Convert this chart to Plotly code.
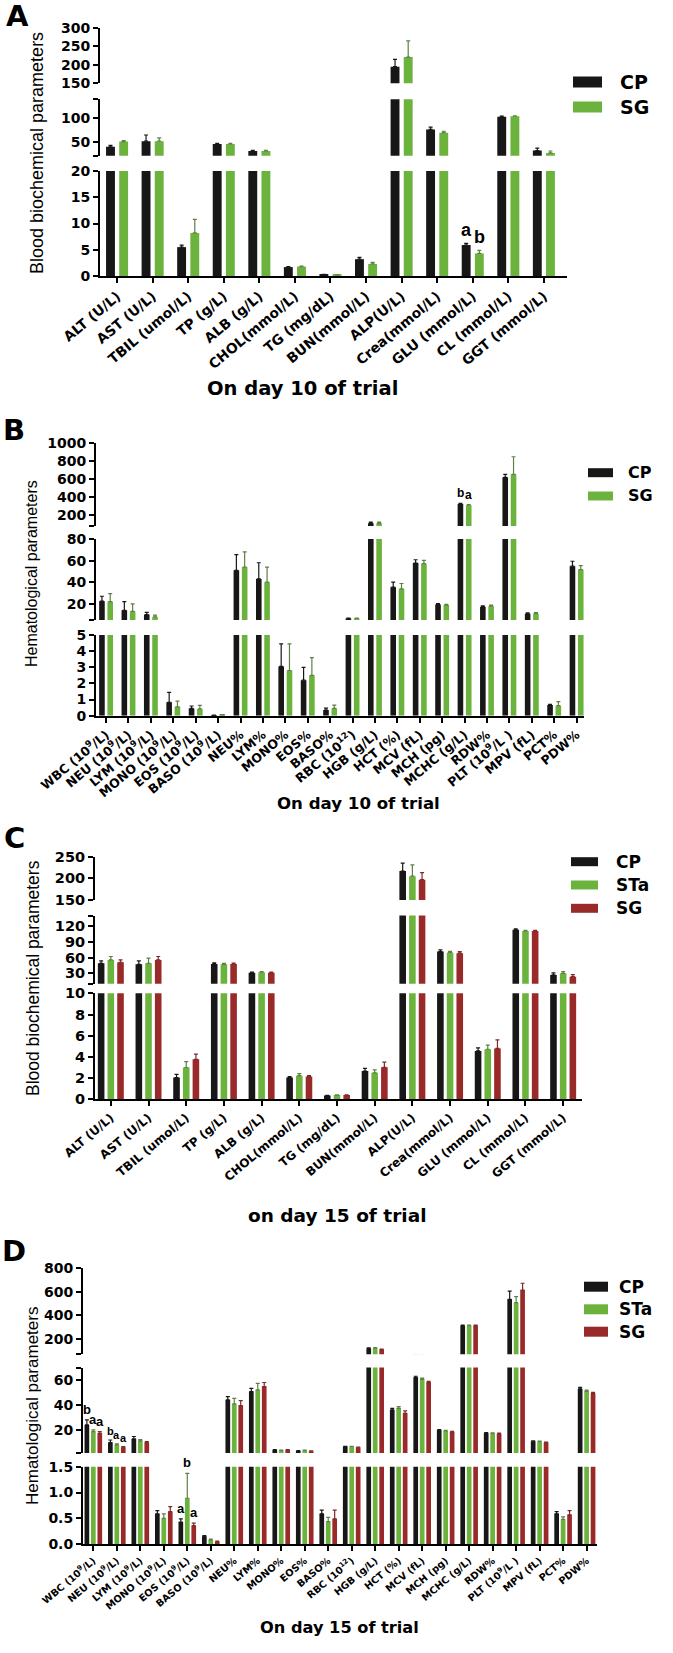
import plotly.graph_objects as go

W, H = 673, 1653

BLACK = "#171717"
GREEN = "#6cb33e"
RED = "#9a2a2a"
ERR = {BLACK: "#171717", GREEN: "#5f7f4a", RED: "#7a2a2a"}

# ---------------- data ----------------
bio_cats = ["ALT (U/L)", "AST (U/L)", "TBIL (umol/L)", "TP (g/L)", "ALB (g/L)",
            "CHOL(mmol/L)", "TG (mg/dL)", "BUN(mmol/L)", "ALP(U/L)", "Crea(mmol/L)",
            "GLU (mmol/L)", "CL (mmol/L)", "GGT (mmol/L)"]

hema_cats = ["WBC (10<sup>9</sup>/L)", "NEU (10<sup>9</sup>/L)", "LYM (10<sup>9</sup>/L)",
             "MONO (10<sup>9</sup>/L)", "EOS (10<sup>9</sup>/L)", "BASO (10<sup>9</sup>/L)",
             "NEU%", "LYM%", "MONO%", "EOS%", "BASO%", "RBC (10<sup>12</sup>)",
             "HGB (g/L)", "HCT (%)", "MCV (fL)", "MCH (pg)", "MCHC (g/L)", "RDW%",
             "PLT (10<sup>9</sup>/L )", "MPV (fL)", "PCT%", "PDW%"]

# A - biochemistry, day 10
a_cp = [39, 51, 5.5, 45, 30, 1.7, 0.3, 3.2, 195, 76, 5.9, 103, 31]
a_cp_err = [3, 13, 0.4, 1.5, 1.5, 0.1, 0.03, 0.35, 20, 5, 0.3, 1, 5]
a_sg = [50, 51, 8.2, 45, 30, 1.8, 0.2, 2.3, 221, 69, 4.3, 104, 26]
a_sg_err = [2, 7, 2.6, 1.5, 1.5, 0.1, 0.03, 0.3, 44, 3, 0.6, 1, 4]

# B - hematology, day 10
b_cp = [22.5, 14, 10, 0.83, 0.45, 0.02, 51, 43, 3.05, 2.2, 0.35, 6.5, 110, 35.4,
        57.8, 19.4, 323, 17.2, 618, 10.8, 0.66, 54.8]
b_cp_err = [4.5, 8, 2, 0.62, 0.15, 0.01, 14.5, 15, 1.4, 0.8, 0.12, 0.3, 12, 4.6,
            3, 0.8, 8, 1, 33, 0.8, 0.05, 4.6]
b_sg = [22, 13, 8, 0.55, 0.42, 0.05, 54, 40, 2.8, 2.5, 0.45, 6.5, 110, 33.8,
        57.2, 18.8, 309, 17.8, 651, 11, 0.62, 51.7]
b_sg_err = [7.5, 7, 1.5, 0.35, 0.22, 0.02, 14, 14, 1.65, 1.1, 0.2, 0.3, 12, 5,
            3, 0.8, 6, 1, 194, 0.8, 0.25, 3.7]

# C - biochemistry, day 15
c_cp = [49, 47, 2.05, 47.9, 31, 2.05, 0.35, 2.67, 217, 71.5, 4.56, 113, 26.8]
c_cp_err = [4.5, 6.5, 0.3, 2, 1.5, 0.1, 0.03, 0.25, 18, 3, 0.3, 1.5, 4]
c_sta = [55.5, 49, 3.0, 47, 32, 2.23, 0.4, 2.5, 205, 69.6, 4.72, 110.6, 30]
c_sta_err = [6.5, 9.7, 0.55, 2, 1, 0.2, 0.03, 0.27, 26, 2, 0.4, 1, 3]
c_sg = [51, 55.5, 3.77, 47.9, 31, 2.14, 0.4, 3.02, 197, 68.3, 4.8, 110.6, 23.6]
c_sg_err = [4.5, 6.5, 0.5, 1.5, 1.5, 0.1, 0.03, 0.48, 16, 3, 0.8, 1, 4]

# D - hematology, day 15
d_cp = [24, 9.9, 12.8, 0.59, 0.43, 0.15, 44, 50.7, 4, 3.2, 0.59, 6.7, 120, 36,
        62, 19.7, 313, 17.3, 537, 10.9, 0.59, 52.8]
d_cp_err = [4, 2, 1.9, 0.06, 0.06, 0.02, 2.7, 2.6, 0.3, 0.3, 0.07, 0.2, 5, 1.3,
            1, 0.5, 5, 0.5, 70, 0.4, 0.04, 1.2]
d_sta = [18.7, 8, 11.2, 0.5, 0.89, 0.08, 40.8, 52, 3.5, 3.5, 0.44, 6.7, 122, 37.3,
         60.5, 19.2, 313, 17.3, 508, 10.7, 0.48, 50.9]
d_sta_err = [1.3, 0.8, 1, 0.09, 0.48, 0.02, 4.5, 5.3, 0.3, 0.3, 0.08, 0.2, 5, 1.4,
             1, 0.4, 4, 0.4, 51, 0.3, 0.05, 1]
d_sg = [17.3, 6.1, 9.9, 0.63, 0.36, 0.05, 39.5, 54.7, 4, 2.9, 0.49, 6.1, 110, 33.3,
        57.9, 18.4, 313, 17, 616, 9.9, 0.57, 49.3]
d_sg_err = [1.4, 0.6, 0.8, 0.1, 0.05, 0.01, 4, 3.3, 0.3, 0.3, 0.17, 0.2, 5, 1.9,
            1, 0.4, 4, 0.4, 57, 0.3, 0.08, 0.8]


def fx(p):
    return p / W


def fy(p):
    return 1 - p / H


WIDE = "DejaVu Sans"
SANS = "Liberation Sans, Arial, sans-serif"
LABEL_ANGLE = -40

panels = [
    dict(letter="A", letter_xy=(17, 16), cats=bio_cats,
         series=[("CP", a_cp, a_cp_err, BLACK), ("SG", a_sg, a_sg_err, GREEN)],
         xdom=(100, 567), xrange=(-0.48, 12.65), bw=0.25, step=0.37,
         catfs=13.8, tickfs=14,
         segs=[(276, 171, (0, 20), [0, 5, 10, 15, 20], None),
               (155.7, 99.3, (20, 140), [20, 50, 100, 140], ["", "50", "100", ""]),
               (83.3, 28, (150, 300), [150, 200, 250, 300], None)],
         xtitle="On day 10 of trial", xtitle_xy=(302, 389), xtitle_fs=19.5,
         ytitle="Blood biochemical parameters", ytitle_xy=(37, 153), ytitle_fs=18,
         legend=dict(x0=573, x1=602, tx=618, rows=[82, 107], h=11, fs=19),
         marks=[(10, 0, 0, "a", 18), (10, 1, 0, "b", 18)]),
    dict(letter="B", letter_xy=(14, 430), cats=hema_cats,
         series=[("CP", b_cp, b_cp_err, BLACK), ("SG", b_sg, b_sg_err, GREEN)],
         xdom=(96, 584), xrange=(-0.45, 21.33), bw=0.25, step=0.37,
         catfs=12.5, tickfs=14,
         segs=[(715.7, 635, (0, 5), [0, 1, 2, 3, 4, 5], None),
               (620, 539, (5, 80), [5, 20, 40, 60, 80], ["", "20", "40", "60", "80"]),
               (526, 442.7, (80, 1000), [80, 200, 400, 600, 800, 1000],
                ["", "200", "400", "600", "800", "1000"])],
         xtitle="On day 10 of trial", xtitle_xy=(358, 803), xtitle_fs=16.6,
         ytitle="Hematological parameters", ytitle_xy=(32, 574), ytitle_fs=16,
         legend=dict(x0=588, x1=613, tx=626, rows=[472.7, 496], h=9, fs=16),
         marks=[(16, 0, 2, "b", 12), (16, 1, 2, "a", 12)]),
    dict(letter="C", letter_xy=(14, 838), cats=bio_cats,
         series=[("CP", c_cp, c_cp_err, BLACK), ("STa", c_sta, c_sta_err, GREEN),
                 ("SG", c_sg, c_sg_err, RED)],
         xdom=(95, 582), xrange=(-0.42, 12.5), bw=0.175, step=0.257,
         catfs=12, tickfs=14.5,
         segs=[(1099.3, 993.3, (0, 10), [0, 2, 4, 6, 8, 10], None),
               (983.8, 915.5, (10, 140), [10, 30, 60, 90, 120, 140],
                ["", "30", "60", "90", "120", ""]),
               (900, 856.7, (150, 250), [150, 200, 250], None)],
         xtitle="on day 15 of trial", xtitle_xy=(337, 1215), xtitle_fs=18.5,
         ytitle="Blood biochemical parameters", ytitle_xy=(33, 978), ytitle_fs=17.5,
         legend=dict(x0=571, x1=598, tx=614, rows=[861.7, 885, 908.3], h=9, fs=17),
         marks=[]),
    dict(letter="D", letter_xy=(14, 1251), cats=hema_cats,
         series=[("CP", d_cp, d_cp_err, BLACK), ("STa", d_sta, d_sta_err, GREEN),
                 ("SG", d_sg, d_sg_err, RED)],
         xdom=(83, 596.7), xrange=(-0.44, 21.43), bw=0.2, step=0.275,
         catfs=9.8, tickfs=14,
         segs=[(1544.3, 1466.7, (0, 1.5), [0, 0.5, 1.0, 1.5], ["0.0", "0.5", "1.0", "1.5"]),
               (1453, 1367.5, (1.5, 70), [1.5, 20, 40, 60, 70], ["", "20", "40", "60", ""]),
               (1354.3, 1268.3, (70, 800), [70, 200, 400, 600, 800],
                ["", "200", "400", "600", "800"])],
         xtitle="On day 15 of trial", xtitle_xy=(339, 1627), xtitle_fs=16.2,
         ytitle="Hematological parameters", ytitle_xy=(32, 1406), ytitle_fs=17,
         legend=dict(x0=584, x1=608, tx=617, rows=[1286.7, 1309.3, 1331.7], h=10, fs=17),
         marks=[(0, 0, 1, "b", 13), (0, 1, 1, "a", 13), (0, 2, 1, "a", 13),
                (1, 0, 1, "b", 11), (1, 1, 1, "a", 11), (1, 2, 1, "a", 11),
                (4, 0, 0, "a", 13), (4, 1, 0, "b", 13), (4, 2, 0, "a", 13)]),
]

fig = go.Figure()
layout = {}
annotations = []
shapes = []

for k, p in enumerate(panels, start=1):
    xname = "x" if k == 1 else f"x{k}"
    xkey = "xaxis" if k == 1 else f"xaxis{k}"
    idx = list(range(len(p["cats"])))
    ns = len(p["series"])
    ynames = []
    for s, (pb, pt, rng, tv, tt) in enumerate(p["segs"]):
        n = 3 * (k - 1) + s + 1
        yname = "y" if n == 1 else f"y{n}"
        ykey = "yaxis" if n == 1 else f"yaxis{n}"
        ynames.append(yname)
        layout[ykey] = dict(
            domain=[fy(pb), fy(pt)], range=list(rng), anchor=xname, automargin=False,
            showline=True, linewidth=2, linecolor="black",
            ticks="outside", ticklen=5, tickwidth=2, tickcolor="black",
            tickvals=tv, ticktext=tt if tt else [str(v) for v in tv],
            tickfont=dict(family=WIDE, size=p["tickfs"], color="black", weight="bold"),
            showgrid=False, zeroline=False, fixedrange=True,
        )
        lo, hi = rng
        for i, (name, vals, errs, col) in enumerate(p["series"]):
            off = (i - (ns - 1) / 2) * p["step"] - p["bw"] / 2
            # error bars only in the segment where the bar ends
            seg_err = [e if lo <= v <= hi else None for v, e in zip(vals, errs)]
            fig.add_trace(go.Bar(
                x=idx, y=vals, width=p["bw"], offset=off,
                marker=dict(color=col, line=dict(width=0)),
                error_y=dict(type="data", array=seg_err,
                             arrayminus=[0 if e is not None else None for e in seg_err],
                             symmetric=False, color=ERR[col], thickness=1.2, width=2),
                xaxis=xname, yaxis=yname, name=name, showlegend=False,
            ))
    layout[xkey] = dict(
        domain=[fx(p["xdom"][0]), fx(p["xdom"][1])], range=list(p["xrange"]),
        anchor=ynames[0], automargin=False, showline=True, linewidth=2, linecolor="black",
        ticks="outside", ticklen=5, tickwidth=2, tickcolor="black",
        tickvals=idx, ticktext=p["cats"], tickangle=LABEL_ANGLE,
        tickfont=dict(family=WIDE, size=p["catfs"], color="black", weight="bold"),
        showgrid=False, zeroline=False, fixedrange=True,
    )

    # significance letters
    for ci, si, seg, txt, fs in p["marks"]:
        name, vals, errs, col = p["series"][si]
        annotations.append(dict(
            x=ci + (si - (ns - 1) / 2) * p["step"], y=vals[ci] + errs[ci],
            xref=xname, yref=ynames[seg], text=txt, showarrow=False,
            yanchor="bottom", yshift=1,
            font=dict(family=SANS, size=fs, color="black", weight="bold"),
        ))

    # panel letter, axis titles
    annotations.append(dict(
        x=fx(p["letter_xy"][0]), y=fy(p["letter_xy"][1]), xref="paper", yref="paper",
        text=p["letter"], showarrow=False, xanchor="center", yanchor="middle",
        font=dict(family=WIDE, size=29, color="black", weight="bold")))
    annotations.append(dict(
        x=fx(p["xtitle_xy"][0]), y=fy(p["xtitle_xy"][1]), xref="paper", yref="paper",
        text=p["xtitle"], showarrow=False, xanchor="center", yanchor="middle",
        font=dict(family=WIDE, size=p["xtitle_fs"], color="black", weight="bold")))
    annotations.append(dict(
        x=fx(p["ytitle_xy"][0]), y=fy(p["ytitle_xy"][1]), xref="paper", yref="paper",
        text=p["ytitle"], showarrow=False, textangle=-90, xanchor="center", yanchor="middle",
        font=dict(family=SANS, size=p["ytitle_fs"], color="black")))

    # legend
    lg = p["legend"]
    for (name, vals, errs, col), ry in zip(p["series"], lg["rows"]):
        shapes.append(dict(
            type="rect", xref="paper", yref="paper",
            x0=fx(lg["x0"]), x1=fx(lg["x1"]), y0=fy(ry + lg["h"] / 2), y1=fy(ry - lg["h"] / 2),
            fillcolor=col, line=dict(width=0)))
        annotations.append(dict(
            x=fx(lg["tx"]), y=fy(ry), xref="paper", yref="paper", text=name,
            showarrow=False, xanchor="left", yanchor="middle",
            font=dict(family=WIDE, size=lg["fs"], color="black", weight="bold")))

fig.update_layout(
    width=W, height=H,
    margin=dict(l=0, r=0, t=0, b=0, autoexpand=False),
    paper_bgcolor="white", plot_bgcolor="white",
    showlegend=False,
    annotations=annotations, shapes=shapes,
    **layout,
)

fig.write_html("out.html", config={"displayModeBar": False},
               post_script="document.body.style.margin='0';")
